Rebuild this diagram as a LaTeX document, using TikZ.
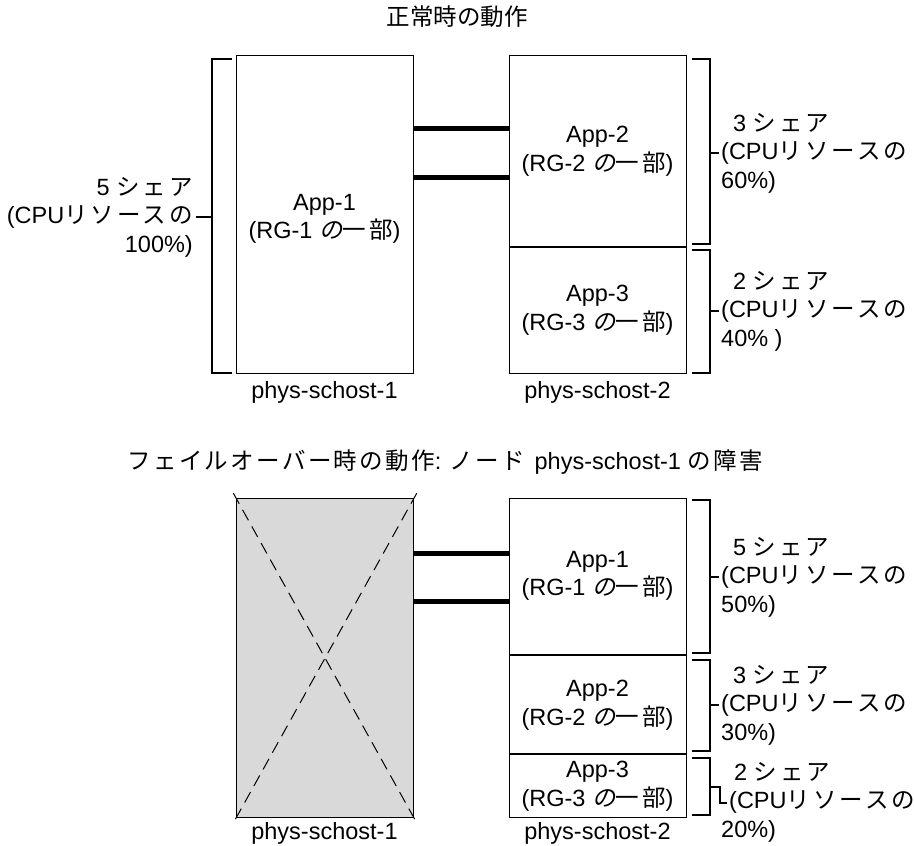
\documentclass[tikz,border=0pt]{standalone}
\usepackage{fontspec}
\setmainfont{Liberation Sans}
\newfontfamily\jp{Noto Sans CJK JP}
\newfontfamily\jpt[LetterSpace=10]{Noto Sans CJK JP}
\newfontfamily\jpw[LetterSpace=13]{Noto Sans CJK JP}
\newfontfamily\jpsl[FakeSlant=0.2,LetterSpace=13]{Noto Sans CJK JP}
\usetikzlibrary{calc}
\definecolor{failgray}{HTML}{D9D9D9}
\begin{document}
\begin{tikzpicture}[x=1pt,y=-1pt,
  every node/.style={font=\fontsize{23.5}{28.5}\selectfont, inner sep=0pt},
  hostbox/.style={draw, line width=1.1pt, anchor=north west, minimum width=177pt, minimum height=318pt},
  divider/.style={line width=2pt},
  link/.style={line width=5pt},
  bracket/.style={line width=1.1pt},
  apptext/.style={align=center},
  sharer/.style={align=left, anchor=west},
  sharel/.style={align=right, anchor=east},
  crossline/.style={dashed, dash pattern=on 12pt off 7pt, line width=1pt}
]
\useasboundingbox (0,0) rectangle (914,846);

% ---------- titles ----------
\node (t1) at (457,17) {\jp 正常時の動作};
\node (t2) at (445,462) {{\jpt フェイルオーバー時の動作}:\hspace{8pt}{\jpt ノード}\hspace{10pt}phys-schost-1 {\jpt の障害}};

% ---------- top: normal operation ----------
\node[hostbox] (h1) at (236,55) {};
\node[hostbox] (h2) at (509,55) {};
\coordinate (d1) at (0,247);
\draw[divider] (h2.west |- d1) -- (h2.east |- d1);
\coordinate (l1) at (0,128);
\coordinate (l2) at (0,177);
\draw[link] (h1.east |- l1) -- (h2.west |- l1);
\draw[link] (h1.east |- l2) -- (h2.west |- l2);

\node[apptext] (a1) at (324.5,219) {App-1\\(RG-1 {\jpsl の}{\jpw 一部})};
\node[apptext] (a2) at (597.5,151) {App-2\\(RG-2 {\jpsl の}{\jpw 一部})};
\node[apptext] (a3) at (597.5,310) {App-3\\(RG-3 {\jpsl の}{\jpw 一部})};

\node (n1) at (324.5,392) {phys-schost-1};
\node (n2) at (597.5,392) {phys-schost-2};

% left bracket
\draw[bracket] (232,59) -- (212,59) -- (212,373) -- (232,373);
\draw[bracket] (212,217) -- (196,217);
\node[sharel] (s0) at (193,217) {5 {\jpw シェア}\\(CPU{\jpw リソースの}\\100\%)};

% right brackets
\draw[bracket] (692,59) -- (710,59) -- (710,244) -- (692,244);
\draw[bracket] (710,153) -- (719,153);
\node[sharer] (s1) at (721,153) {\hspace{12pt}3 {\jpw シェア}\\(CPU{\jpw リソースの}\\60\%)};

\draw[bracket] (692,250) -- (710,250) -- (710,373) -- (692,373);
\draw[bracket] (710,311) -- (719,311);
\node[sharer] (s2) at (721,311) {\hspace{12pt}2 {\jpw シェア}\\(CPU{\jpw リソースの}\\40\% )};

% ---------- bottom: failover ----------
\node[hostbox, fill=failgray, minimum height=319pt] (g1) at (236,498) {};
\node[hostbox, minimum height=319pt] (g2) at (509,498) {};
\draw[crossline] ($(g1.north west)!-0.015!(g1.south east)$) -- ($(g1.south east)!-0.015!(g1.north west)$);
\draw[crossline] ($(g1.north east)!-0.015!(g1.south west)$) -- ($(g1.south west)!-0.015!(g1.north east)$);
\coordinate (d2) at (0,655);
\coordinate (d3) at (0,754);
\draw[divider] (g2.west |- d2) -- (g2.east |- d2);
\draw[divider] (g2.west |- d3) -- (g2.east |- d3);
\coordinate (l3) at (0,553);
\coordinate (l4) at (0,601);
\draw[link] (g1.east |- l3) -- (g2.west |- l3);
\draw[link] (g1.east |- l4) -- (g2.west |- l4);

\node[apptext] (b1) at (597.5,576) {App-1\\(RG-1 {\jpsl の}{\jpw 一部})};
\node[apptext] (b2) at (597.5,705) {App-2\\(RG-2 {\jpsl の}{\jpw 一部})};
\node[apptext] (b3) at (597.5,786) {App-3\\(RG-3 {\jpsl の}{\jpw 一部})};

\node (m1) at (324.5,833) {phys-schost-1};
\node (m2) at (597.5,833) {phys-schost-2};

\draw[bracket] (692,500) -- (710,500) -- (710,653) -- (692,653);
\draw[bracket] (710,577) -- (719,577);
\node[sharer] (s3) at (721,577) {\hspace{12pt}5 {\jpw シェア}\\(CPU{\jpw リソースの}\\50\%)};

\draw[bracket] (692,660) -- (710,660) -- (710,751) -- (692,751);
\draw[bracket] (710,705) -- (719,705);
\node[sharer] (s4) at (721,705) {\hspace{12pt}3 {\jpw シェア}\\(CPU{\jpw リソースの}\\30\%)};

\draw[bracket] (692,758) -- (710,758) -- (710,815) -- (692,815);
\draw[bracket] (710,787) -- (720,787) -- (720,803) -- (727,803);
\node[sharer] (s5) at (721,802) {\hspace{13pt}2 {\jpw シェア}\\\hspace{8pt}(CPU{\jpw リソースの}\\20\%)};
\end{tikzpicture}
\end{document}
